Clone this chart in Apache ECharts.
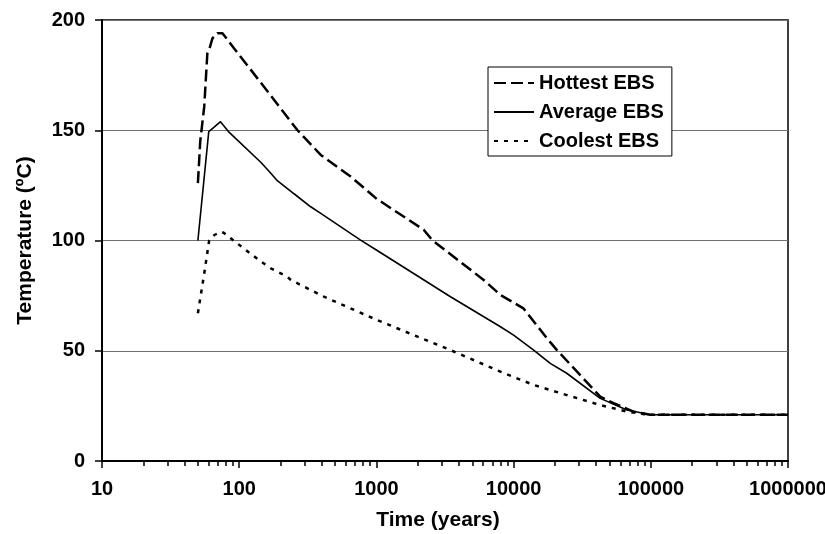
<!DOCTYPE html>
<html>
<head>
<meta charset="utf-8">
<style type="text/css">
    html, body {margin: 0; padding: 0; background: #fff;}
</style>
</head>
<body>
<div style="width: 825px;height: 534px;" id="chart"></div>
<script src="https://cdn.jsdelivr.net/npm/echarts@6/dist/echarts.min.js"></script>
<script>

// values (time in years, temperature in ºC)
let hottestTime = [50, 52, 55.6, 58.6, 61.4, 63.8, 69.4, 75.5, 91.6, 143.6, 170, 224, 266, 393, 649, 1000, 2218, 2549, 6050, 8020, 11800, 15700, 17500, 20700, 42800, 53500, 74800, 99000, 1000000];
let hottestTemp = [126, 145, 160.7, 184.9, 188, 191.7, 194, 194, 187.2, 171.6, 165.7, 156, 150, 138.8, 129, 119, 104.8, 100.2, 82.1, 75.3, 69.2, 59.4, 55.6, 50.3, 29.2, 26.2, 22.4, 21, 21];

let averageTime = [50, 60, 66, 73, 83.5, 143.6, 170, 187.5, 251, 332, 393, 767, 1000, 3467, 8020, 10000, 14000, 18500, 24400, 42800, 67000, 100000, 1000000];
let averageTemp = [100, 149.4, 151.5, 153.9, 149.4, 135.5, 130.5, 127.4, 121.2, 115.3, 112.3, 100.2, 95.7, 74.5, 60.9, 57.1, 50.3, 44.3, 39.8, 28.4, 23.1, 21, 21];

let coolestTime = [50, 55.6, 60.4, 62, 66, 73.4, 77, 90, 143.6, 170, 224, 238, 415, 1014, 3467, 8020, 10600, 14000, 24400, 42800, 67000, 95000, 1000000];
let coolestTemp = [67, 85, 100, 101, 102.5, 104, 103.5, 100.2, 90.5, 87.4, 83.6, 82.1, 74.5, 63.9, 50.3, 40.5, 37.5, 34.5, 29.9, 25.4, 22.4, 21, 21];

let minorTicks = [20, 30, 40, 50, 60, 70, 80, 90, 200, 300, 400, 500, 600, 700, 800, 900,
    2000, 3000, 4000, 5000, 6000, 7000, 8000, 9000, 20000, 30000, 40000, 50000, 60000, 70000, 80000, 90000,
    200000, 300000, 400000, 500000, 600000, 700000, 800000, 900000];

let pairs = (xs, ys) => xs.map((x, i) => [x, ys[i]]);

let font = 'Liberation Sans, Arial, sans-serif';

let chart = echarts.init(document.getElementById('chart'));

let option = {
    animation: false,
    backgroundColor: '#fff',
    grid: {
        left: 102,
        right: 37,
        top: 20,
        bottom: 73,
        containLabel: false,
        outerBoundsMode: 'none',
        show: true,
        borderColor: '#000',
        borderWidth: 1.5
    },
    legend: {
        orient: 'vertical',
        left: 488,
        top: 67,
        padding: [6, 8, 5, 5],
        itemGap: 9,
        itemWidth: 40,
        itemHeight: 14,
        backgroundColor: '#fff',
        borderColor: '#000',
        borderWidth: 1,
        borderRadius: 0,
        itemStyle: {opacity: 0},
        textStyle: {
            fontFamily: font,
            fontWeight: 'bold',
            fontSize: 20,
            color: '#000'
        },
        data: ['Hottest EBS', 'Average EBS', 'Coolest EBS']
    },
    xAxis: [{
        type: 'log',
        logBase: 10,
        min: 10,
        max: 1000000,
        position: 'bottom',
        name: 'Time (years)',
        nameLocation: 'middle',
        nameGap: 49,
        nameTextStyle: {
            fontFamily: font,
            fontWeight: 'bold',
            fontSize: 21,
            color: '#000',
            padding: [0, 14, 0, 0]
        },
        axisLine: {onZero: false, lineStyle: {color: '#000', width: 2}},
        axisTick: {show: true, length: 7, lineStyle: {color: '#000', width: 1.5}},
        axisLabel: {
            margin: 18,
            fontFamily: font,
            fontWeight: 'bold',
            fontSize: 20,
            color: '#000',
            formatter: v => String(Math.round(v))
        },
        splitLine: {show: false}
    }, {
        type: 'log',
        logBase: 10,
        min: 10,
        max: 1000000,
        position: 'bottom',
        axisLine: {show: false, onZero: false},
        axisTick: {show: true, length: 5, customValues: minorTicks, lineStyle: {color: '#000', width: 1.5}},
        axisLabel: {show: false},
        splitLine: {show: false}
    }],
    yAxis: {
        type: 'value',
        min: 0,
        max: 200,
        interval: 50,
        name: 'Temperature (ºC)',
        nameLocation: 'middle',
        nameGap: 66,
        nameTextStyle: {
            fontFamily: font,
            fontWeight: 'bold',
            fontSize: 21,
            color: '#000'
        },
        axisLine: {show: true, lineStyle: {color: '#000', width: 2}},
        axisTick: {show: true, length: 7, lineStyle: {color: '#000', width: 1.5}},
        axisLabel: {
            margin: 17,
            fontFamily: font,
            fontWeight: 'bold',
            fontSize: 20,
            color: '#000'
        },
        splitLine: {show: true, lineStyle: {color: '#707070', width: 1}}
    },
    series: [{
        name: 'Hottest EBS',
        type: 'line',
        xAxisIndex: 0,
        showSymbol: false,
        symbol: 'none',
        data: pairs(hottestTime, hottestTemp),
        lineStyle: {color: '#000', width: 2.5, type: [12, 5]},
        itemStyle: {color: '#000'}
    }, {
        name: 'Average EBS',
        type: 'line',
        xAxisIndex: 0,
        showSymbol: false,
        symbol: 'none',
        data: pairs(averageTime, averageTemp),
        lineStyle: {color: '#000', width: 1.6},
        itemStyle: {color: '#000'}
    }, {
        name: 'Coolest EBS',
        type: 'line',
        xAxisIndex: 0,
        showSymbol: false,
        symbol: 'none',
        data: pairs(coolestTime, coolestTemp),
        lineStyle: {color: '#000', width: 2.5, type: [4, 6]},
        itemStyle: {color: '#000'}
    }]
};

chart.setOption(option);

</script>
</body>
</html>
